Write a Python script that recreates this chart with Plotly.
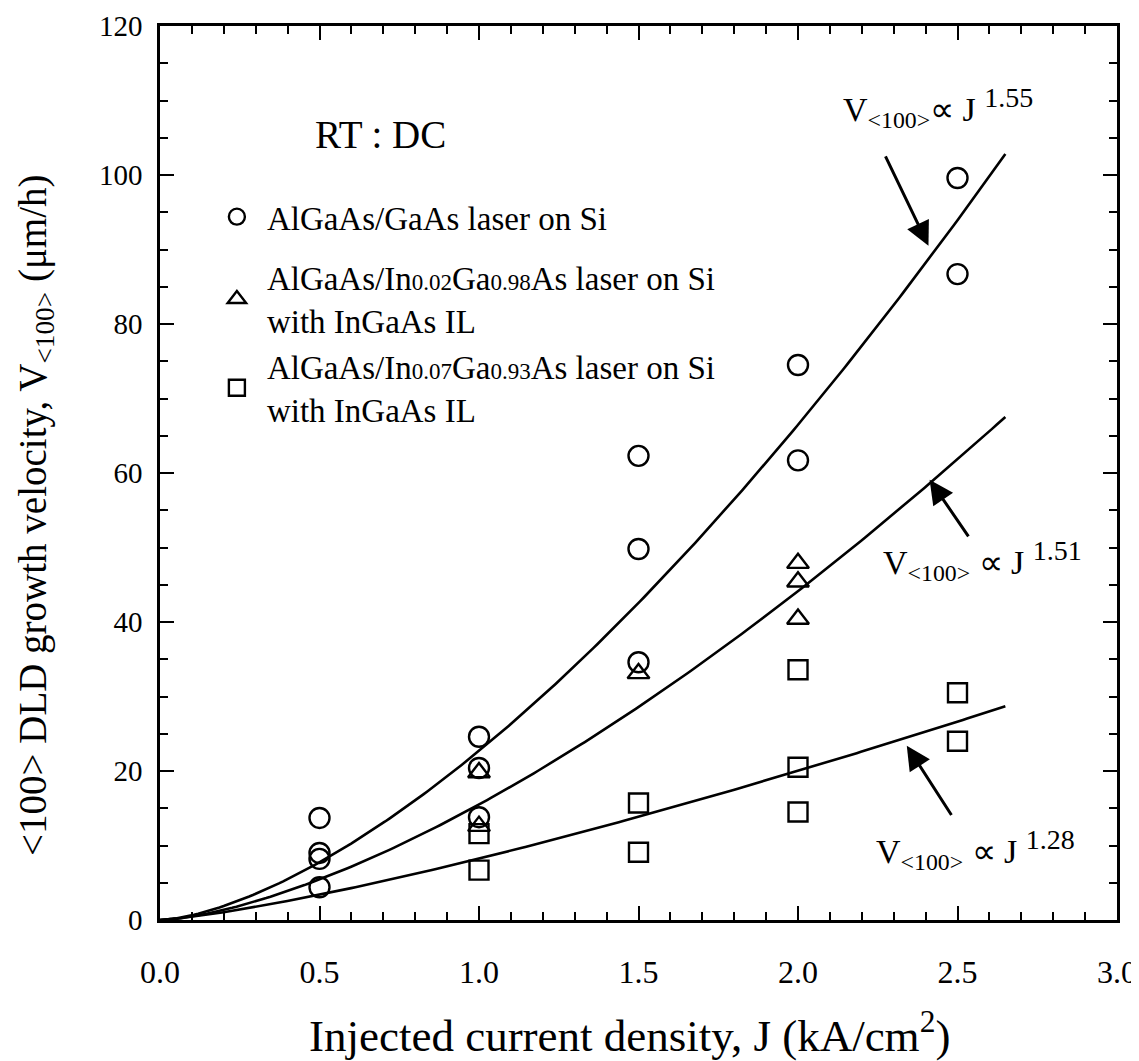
import numpy as np
import plotly.graph_objects as go

# ---- data ----
J_circle = [0.5, 0.5, 0.5, 0.5, 1.0, 1.0, 1.0, 1.5, 1.5, 1.5, 2.0, 2.0, 2.5, 2.5]
V_circle = [13.7, 9.0, 8.2, 4.4, 24.6, 20.4, 13.8, 62.3, 49.8, 34.6, 74.5, 61.7, 99.6, 86.7]

J_tri = [1.0, 1.0, 1.5, 2.0, 2.0, 2.0]
V_tri = [19.8, 12.6, 33.1, 47.9, 45.4, 40.4]

J_sq = [1.0, 1.0, 1.5, 1.5, 2.0, 2.0, 2.0, 2.5, 2.5]
V_sq = [11.6, 6.7, 15.7, 9.1, 33.6, 20.5, 14.5, 30.5, 24.0]

# power-law fits V = a * J^p (coefficients)
fit_coef = [22.7, 15.5, 8.24]
fit_exp = [1.55, 1.51, 1.28]
fit_Jmax = 2.65

x_ticks = [0.0, 0.5, 1.0, 1.5, 2.0, 2.5, 3.0]
x_ticklabels = ["0.0", "0.5", "1.0", "1.5", "2.0", "2.5", "3.0"]
y_ticks = [0, 20, 40, 60, 80, 100, 120]

FONT = "Liberation Serif, Times New Roman, serif"
small = '<span style="font-size:23px">{}</span>'

names = [
    "AlGaAs/GaAs laser on Si",
    "AlGaAs/In" + small.format("0.02") + "Ga" + small.format("0.98") + "As laser on Si<br>with InGaAs IL",
    "AlGaAs/In" + small.format("0.07") + "Ga" + small.format("0.93") + "As laser on Si<br>with InGaAs IL",
]

fig = go.Figure()

# fitted curves
Jf = np.linspace(0, fit_Jmax, 200)
for a, p in zip(fit_coef, fit_exp):
    fig.add_trace(go.Scatter(x=Jf, y=a * Jf ** p, mode="lines",
                             line=dict(color="black", width=2.6),
                             showlegend=False, hoverinfo="skip"))

mk = dict(color="black", line=dict(color="black", width=2.4))
fig.add_trace(go.Scatter(x=J_circle, y=V_circle, mode="markers", name=names[0],
                         legendgroup="g1",
                         marker=dict(symbol="circle-open", size=20, **mk)))
fig.add_trace(go.Scatter(x=J_tri, y=V_tri, mode="markers", name=names[1],
                         legendgroup="g2",
                         marker=dict(symbol="triangle-up-open", size=19, **mk)))
fig.add_trace(go.Scatter(x=J_sq, y=V_sq, mode="markers", name=names[2],
                         legendgroup="g2",
                         marker=dict(symbol="square-open", size=19, **mk)))

# annotations with arrows
sub100 = '<sub>&lt;100&gt;</sub>'
sup = '<sup><span style="font-size:28px">{}</span></sup>'
labels = [
    ("V" + sub100 + "\u221d J " + sup.format("1.55"), 2.44, 109.0, 2.409, 90.5, 2.272, 102.7),
    ("V" + sub100 + " \u221d J " + sup.format("1.51"), 2.578, 48.3, 2.4125, 59.1, 2.5375, 51.3),
    ("V" + sub100 + " \u221d J " + sup.format("1.28"), 2.556, 9.4, 2.341, 23.4, 2.484, 13.9),
]
for txt, lx, ly, tx, ty, ax, ay in labels:
    fig.add_annotation(x=lx, y=ly, text=txt, showarrow=False,
                       font=dict(family=FONT, size=34, color="black"))
    fig.add_annotation(x=tx, y=ty, ax=ax, ay=ay, axref="x", ayref="y",
                       text="", showarrow=True, arrowhead=2, arrowsize=1.6,
                       arrowwidth=3, arrowcolor="black")

fig.add_annotation(x=0.69, y=105.5, xref="x", yref="y", text="RT : DC", showarrow=False,
                   font=dict(family=FONT, size=39, color="black"))

# axis titles
fig.add_annotation(x=0.491, y=-0.1253, xref="paper", yref="paper", showarrow=False,
                   xanchor="center", yanchor="middle",
                   text="Injected current density, J (kA/cm<sup>2</sup>)",
                   font=dict(family=FONT, size=45, color="black"))
fig.add_annotation(x=-0.1306, y=0.453, xref="paper", yref="paper", showarrow=False,
                   xanchor="center", yanchor="middle", textangle=-90,
                   text="<100> DLD growth velocity, V" + sub100 + " (\u03bcm/h)",
                   font=dict(family=FONT, size=39, color="black"))

axis_common = dict(
    showgrid=False, zeroline=False, showline=True, linecolor="black", linewidth=2.6,
    mirror="allticks", ticks="inside", tickcolor="black", tickwidth=2.2, ticklen=14,
    automargin=False,
)

fig.update_xaxes(range=[0, 3], tickvals=x_ticks, ticktext=x_ticklabels,
                 tickfont=dict(family=FONT, size=32, color="black"),
                 minor=dict(dtick=0.1, ticks="inside", ticklen=8, tickwidth=2, tickcolor="black"),
                 ticklabelstandoff=22, ticklabeloverflow="allow", **axis_common)
fig.update_yaxes(range=[0, 120], tickvals=y_ticks, ticktext=[str(v) for v in y_ticks],
                 tickfont=dict(family=FONT, size=29, color="black"),
                 minor=dict(dtick=5, ticks="inside", ticklen=8, tickwidth=2, tickcolor="black"),
                 ticklabelstandoff=9, ticklabeloverflow="allow", **axis_common)

fig.update_layout(
    width=1131, height=1053,
    margin=dict(l=152, r=22, t=18, b=141, autoexpand=False),
    paper_bgcolor="white", plot_bgcolor="white",
    font=dict(family=FONT, color="black"),
    legend=dict(x=0.049, y=0.818, xanchor="left", yanchor="top",
                font=dict(family=FONT, size=33, color="black"),
                bgcolor="rgba(0,0,0,0)", tracegroupgap=15, traceorder="grouped",
                itemwidth=50),
)

fig.write_html("out.html")
